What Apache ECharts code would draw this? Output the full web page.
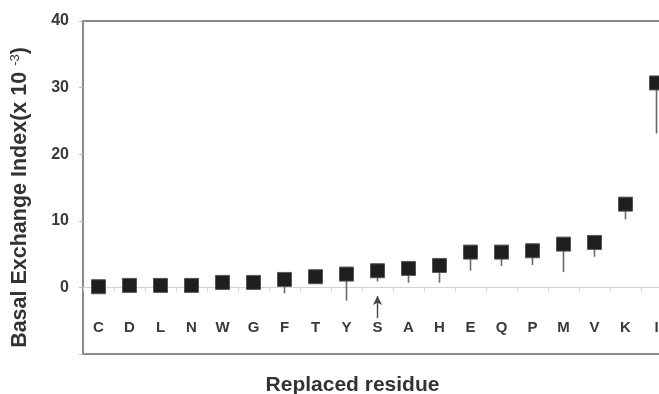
<!DOCTYPE html>
<html>
<head>
<meta charset="utf-8">
<script src="https://cdn.jsdelivr.net/npm/echarts@6/dist/echarts.min.js"></script>
<style>
html,body{margin:0;padding:0;background:#fff;}
#chart{width:659px;height:394px;}
</style>
</head>
<body>
<div id="chart"></div>
<script>
var categories = ['C','D','L','N','W','G','F','T','Y','S','A','H','E','Q','P','M','V','K','I'];
var values     = [0.1,0.3,0.3,0.3,0.75,0.75,1.2,1.6,2.0,2.5,2.85,3.3,5.3,5.3,5.5,6.5,6.75,12.5,30.7];
var lowerEnds  = [0.1,0.3,0.3,0.3,-0.4,0.75,-0.9,1.6,-2.0,0.9,0.7,0.7,2.5,3.2,3.35,2.3,4.6,10.2,23.1];
var yTicks     = [0,10,20,30,40];
var arrowCategory = 'S';
var arrowFrom = -4.6;
var arrowTo = -1.3;

var chart = echarts.init(document.getElementById('chart'), null, {renderer:'canvas'});
var font = 'Liberation Sans, Arial, sans-serif';

var errData = categories.map(function(c,i){ return [i, values[i], lowerEnds[i]]; });

chart.setOption({
  animation:false,
  grid:{left:83, top:21, width:589, height:333, show:true, borderColor:'#8a8a8a', borderWidth:2,
        containLabel:false, outerBoundsMode:'none'},
  xAxis:[{
    type:'category', data:categories, boundaryGap:true,
    axisLine:{onZero:true, lineStyle:{color:'#d2d2d2', width:1}},
    axisTick:{show:true, alignWithLabel:false, length:4, inside:false, lineStyle:{color:'#d2d2d2'}},
    axisLabel:{show:false}
  },{
    type:'category', data:categories, boundaryGap:true, position:'bottom',
    axisLine:{show:false, onZero:false},
    axisTick:{show:false},
    axisLabel:{margin:-34, fontFamily:font, fontWeight:'bold', fontSize:15, color:'#3a3a3a'},
    name:'Replaced residue', nameLocation:'middle', nameGap:21,
    nameTextStyle:{fontFamily:font, fontWeight:'bold', fontSize:21, color:'#333', padding:[0,50,0,0]}
  }],
  yAxis:{
    type:'value', min:-10, max:40, interval:10,
    axisLine:{show:true, lineStyle:{color:'#8a8a8a', width:2}},
    axisTick:{show:true, length:4, lineStyle:{color:'#bbb'}},
    splitLine:{show:false},
    axisLabel:{margin:14, fontFamily:font, fontWeight:'bold', fontSize:16, color:'#3a3a3a',
      formatter:function(v){ return yTicks.indexOf(v) >= 0 ? String(v) : ''; }},
    name:'{a|Basal Exchange Index(x 10 }{s|-3}{a|)}', nameLocation:'middle', nameGap:52,
    nameTextStyle:{padding:[0,20,0,0], rich:{
      a:{fontFamily:font, fontWeight:'bold', fontSize:21.5, color:'#333'},
      s:{fontFamily:font, fontSize:13, color:'#333', verticalAlign:'top', padding:[0,0,9,0]}
    }}
  },
  series:[
    {
      type:'custom', z:2,
      renderItem:function(params, api){
        var top = api.coord([api.value(0), api.value(1)]);
        var bot = api.coord([api.value(0), api.value(2)]);
        return {type:'line', shape:{x1:top[0], y1:top[1], x2:bot[0], y2:bot[1]},
                style:{stroke:'#6a6a6a', lineWidth:1.6}};
      },
      data:errData
    },
    {
      type:'scatter', z:3, symbol:'rect', symbolSize:14,
      itemStyle:{color:'#1e1e1e', borderColor:'#555', borderWidth:1, opacity:1},
      data:values,
      markLine:{
        silent:true, symbol:['none','arrow'], symbolSize:[7,9],
        label:{show:false},
        lineStyle:{color:'#444', width:1.4, type:'solid'},
        data:[[{coord:[arrowCategory, arrowFrom]},{coord:[arrowCategory, arrowTo]}]]
      }
    }
  ]
});
</script>
</body>
</html>
